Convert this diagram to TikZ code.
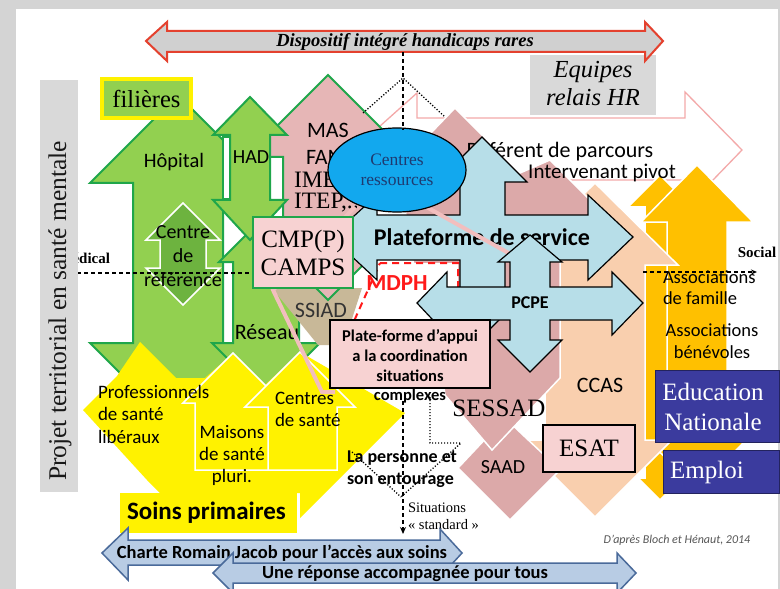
\documentclass[tikz,border=0pt]{standalone}
\usepackage{fontspec}
\setmainfont{Liberation Serif}
\newfontfamily\carl{Carlito}
\usetikzlibrary{shapes.geometric,arrows.meta}
\newcommand\fsz[2]{\fontsize{#1bp}{#2bp}\selectfont}
\definecolor{bggray}{HTML}{D4D4D4}
\definecolor{grn}{HTML}{92D050}
\definecolor{grnd}{HTML}{1FA64A}
\definecolor{grnin}{HTML}{6DB33F}
\definecolor{rosea}{HTML}{DCA9A9}
\definecolor{masfill}{HTML}{E6B6B6}
\definecolor{peach}{HTML}{F9CFAE}
\definecolor{orng}{HTML}{FFC000}
\definecolor{lblue}{HTML}{B7DEE8}
\definecolor{ellb}{HTML}{12A8EE}
\definecolor{navy}{HTML}{1F3A70}
\definecolor{boxpink}{HTML}{F7D2D2}
\definecolor{ssiadtan}{HTML}{C8B898}
\definecolor{btmfill}{HTML}{B8CCE4}
\definecolor{btmdraw}{HTML}{4A6A9A}
\definecolor{edublue}{HTML}{3B3B9E}
\definecolor{boxnavy}{HTML}{23235E}
\definecolor{lgray}{HTML}{D9D9D9}
\definecolor{arrgray}{HTML}{D0D0D0}
\definecolor{pinkline}{HTML}{F3A9A9}
\definecolor{pinkthick}{HTML}{F2BEBE}
\definecolor{redarr}{HTML}{E4412E}
\definecolor{mdphred}{HTML}{FF1A1A}
\definecolor{credit}{HTML}{555555}
\tikzset{
  txt/.style={inner sep=0pt, outer sep=0pt, align=center},
  greenarrow/.style={fill=grn, draw=grnd, line width=2bp},
  bluecross/.style={fill=lblue, draw=black, line width=1.2bp},
  softshape/.style={draw=white, line width=1.5bp},
  yellowarrow/.style={fill=yellow, draw=white, line width=1.5bp},
  bottomarrow/.style={fill=btmfill, draw=btmdraw, line width=1.5bp},
  pinkbox/.style={fill=boxpink, draw=black, line width=1.2bp},
  bluebox/.style={fill=edublue, draw=boxnavy, line width=1bp},
  dashline/.style={dash pattern=on 4bp off 3bp, line width=1.3bp},
  dotline/.style={dash pattern=on 1.2bp off 1.8bp, line width=1.3bp},
}
\begin{document}
\begin{tikzpicture}[x=1bp, y=-1bp, line join=miter]
\useasboundingbox (0,0) rectangle (780,589);
\fill[bggray] (0,0) rectangle (780,589);
\fill[white] (16,9) rectangle (778,589);

% thin pink outline arrow behind the relay teams
\draw[pinkline, line width=1.3bp] (370,135) -- (417,93) -- (417,118) -- (685,118)
  -- (685,92) -- (742,150) -- (713,180) -- (520,180);

% orange up-down arrows (social side)
\draw[softshape, fill=orng] (660,175) -- (692,207) -- (675,207) -- (675,478) -- (682,478)
  -- (660,500) -- (638,478) -- (645,478) -- (645,207) -- (628,207) -- cycle;
\draw[softshape, fill=orng] (697,165) -- (753,222) -- (727,222) -- (727,442) -- (744,442)
  -- (697,490) -- (650,442) -- (667,442) -- (667,222) -- (641,222) -- cycle;

% peach up-down arrow
\draw[softshape, fill=peach] (595,183) -- (678,265) -- (645,265) -- (645,440) -- (672,440)
  -- (595,517) -- (518,440) -- (545,440) -- (545,265) -- (512,265) -- cycle;

% rose medico-social shapes
\draw[softshape, fill=rosea] (505,418) -- (560,470) -- (510,520) -- (458,468) -- cycle;
\draw[softshape, fill=rosea] (400,165) -- (455,108) -- (520,173) -- (550,160) -- (605,215)
  -- (560,260) -- (560,378) -- (492,450) -- (445,395) -- (440,360) -- (410,250) -- cycle;

\node[txt, font=\carl\fsz{22}{26}] (referent) at (560,152) {Référent de parcours};
\node[txt, font=\carl\fsz{21}{25}] (pivot) at (602,173) {Intervenant pivot};

% green sanitary arrows
\draw[greenarrow] (178,95) -- (266,183) -- (223,183) -- (223,343) -- (266,343) -- (178,431)
  -- (90,343) -- (133,343) -- (133,183) -- (90,183) -- cycle;
\draw[fill=grnin, draw=white, line width=1.5bp] (183,203) -- (220,240) -- (206,240) -- (206,268)
  -- (220,268) -- (183,305) -- (146,268) -- (160,268) -- (160,240) -- (146,240) -- cycle;
\draw[greenarrow] (266,215) -- (313,262) -- (299,262) -- (299,343) -- (320,343) -- (266,397)
  -- (212,343) -- (233,343) -- (233,262) -- (219,262) -- cycle;
\draw[fill=white, draw=grnd, line width=1.5bp] (223,137) rectangle (230,199);
\fill[ssiadtan] (272,288) -- (362,288) -- (350,325) -- (330,345) -- (318,345) -- cycle;
\draw[greenarrow, fill=masfill] (328,75) -- (410,157) -- (373,157) -- (373,218) -- (410,218)
  -- (328,300) -- (246,218) -- (283,218) -- (283,157) -- (246,157) -- cycle;
\draw[greenarrow] (250,97) -- (287,135) -- (270,135) -- (270,200) -- (287,200) -- (250,240)
  -- (213,200) -- (230,200) -- (230,135) -- (213,135) -- cycle;

\node[txt, font=\carl\fsz{22}{26}] (mas) at (328,130) {MAS};
\node[txt, font=\carl\fsz{22}{26}, anchor=west] (fam) at (306,157) {FAM};
\node[txt, font=\fsz{23.5}{27}, anchor=west] (ime) at (294,180) {IME};
\node[txt, font=\fsz{23.5}{27}, anchor=west] (itep) at (294,203) {ITEP,..};
\node[txt, font=\carl\fsz{20.5}{24}] (hopital) at (174,162) {Hôpital};
\node[txt, font=\carl\fsz{20}{24}] (had) at (251,157) {HAD};
\node[txt, font=\carl\fsz{20}{24}] (cref) at (183,256) {Centre\\de\\référence};
\node[txt, font=\carl\fsz{22}{26}] (reseau) at (267,332) {Réseau};
\node[txt, font=\carl\fsz{22}{26}, text=black!80] (ssiad) at (321,310) {SSIAD};

% medical / social axis
\node[txt, font=\bfseries\fsz{15}{18}, anchor=east] (medical) at (110,258) {Médical};
\coordinate (medl) at (77,273);
\coordinate (medr) at (253,273);
\draw[dashline] (medl) -- (medr);

% yellow primary care shapes
\fill[yellow] (83,410) -- (117,376) -- (140,342) -- (176,378) -- (205,378) -- (233,353)
  -- (265,385) -- (300,352) -- (405,413) -- (300,518) -- (300,493) -- (160,493) -- (147,480) -- cycle;
\draw[yellowarrow] (233,353) -- (283,403) -- (270,403) -- (270,470) -- (195,470) -- (195,403) -- (183,403) -- cycle;
\draw[yellowarrow] (300,352) -- (355,407) -- (337,407) -- (337,470) -- (268,470) -- (268,407) -- (245,407) -- cycle;
\fill[yellow] (120,493) rectangle (297,533);

\node[txt, font=\carl\fsz{19}{22.5}, align=left, anchor=west] (pros) at (98,414) {Professionnels\\de santé\\libéraux};
\node[txt, font=\carl\fsz{19}{22}] (maisons) at (232,455) {Maisons\\de santé\\pluri.};
\node[txt, font=\carl\fsz{19}{22}, align=left, anchor=west] (csante) at (275,409) {Centres\\de santé};
\node[txt, font=\carl\bfseries\fsz{25}{30}, anchor=west] (soins) at (127,513) {Soins primaires};

\draw[pinkthick, line width=4bp] (355,207) -- (273,290) -- (322,392) -- (335,392);

% MDPH area
\draw[fill=white, draw=mdphred, line width=2bp, dash pattern=on 7bp off 5bp]
  (380,263) -- (458,263) -- (458,330) -- (350,330) -- cycle;
\node[txt, font=\carl\bfseries\fsz{23}{27}, text=mdphred] (mdph) at (397,283) {MDPH};

% service platform cross
\draw[bluecross] (482,137) -- (527,182) -- (505,182) -- (505,215) -- (588,215) -- (588,195)
  -- (633,237) -- (588,280) -- (588,260) -- (505,260) -- (505,292) -- (527,292) -- (482,337)
  -- (437,292) -- (460,292) -- (460,260) -- (377,260) -- (377,280) -- (331,237) -- (377,195)
  -- (377,215) -- (460,215) -- (460,182) -- (437,182) -- cycle;
\node[txt, font=\carl\bfseries\fsz{24}{28}] (pfs) at (482,237) {Plateforme de service};
\draw[pinkthick, line width=4bp] (405,195) -- (512,255);

% resource centres
\node[ellipse, fill=ellb, draw=black, line width=1.2bp, minimum width=138bp, minimum height=84bp,
  inner sep=0pt, align=center, text=navy, font=\fsz{17.5}{20}] (cr) at (397,170) {Centres\\ressources};

% PCPE cross
\draw[bluecross] (530,235) -- (562,262) -- (550,262) -- (550,287) -- (612,287) -- (612,272)
  -- (643,303) -- (612,335) -- (612,320) -- (550,320) -- (550,340) -- (562,340) -- (530,372)
  -- (498,340) -- (510,340) -- (510,320) -- (447,320) -- (447,335) -- (417,303) -- (447,272)
  -- (447,287) -- (510,287) -- (510,262) -- (498,262) -- cycle;
\node[txt, font=\carl\bfseries\fsz{18}{22}] (pcpe) at (530,303) {PCPE};

% boxes
\node[fill=boxpink, draw=grnd, line width=2.5bp, minimum width=100bp, minimum height=71bp,
  inner sep=0pt, align=center, font=\fsz{25}{28}] (cmp) at (303,252.5) {CMP(P)\\CAMPS};
\draw[pinkbox] (330,320) rectangle (490,388);
\node[txt, font=\carl\bfseries\fsz{16.5}{19.7}] (pta) at (410,366.5)
  {Plate-forme d’appui\\a la coordination\\situations\\complexes};
\node[pinkbox, minimum width=92bp, minimum height=47bp, inner sep=0pt, font=\fsz{25}{28}] (esat) at (589,448.5) {ESAT};
\draw[bluebox] (655,370) rectangle (779,442);
\node[txt, text=white, font=\fsz{25}{30}] (edu) at (713,407) {Education\\Nationale};
\draw[bluebox] (663,450) rectangle (779,493);
\node[txt, text=white, font=\fsz{25}{30}] (emploi) at (707,472) {Emploi};

\node[txt, font=\fsz{25}{28}] (sessad) at (499,408) {SESSAD};
\node[txt, font=\carl\fsz{22}{26}] (ccas) at (600,385) {CCAS};
\node[txt, font=\carl\fsz{20}{24}] (saad) at (503,467) {SAAD};

% rare handicaps device and relay teams
\fill[lgray] (530,55) rectangle (656,115);
\node[txt, font=\itshape\fsz{24.5}{28}] (relais) at (593,84) {Equipes\\relais HR};
\draw[fill=arrgray, draw=redarr, line width=2bp] (146,41) -- (167,22) -- (167,31) -- (645,31)
  -- (645,22) -- (663,41) -- (645,61) -- (645,52) -- (167,52) -- (167,61) -- cycle;
\node[txt, font=\bfseries\itshape\fsz{18.5}{22}] (dihr) at (405,42) {Dispositif intégré handicaps rares};

% territorial project label and pathways tag
\fill[lgray] (40,80) rectangle (78,492);
\node[txt, rotate=90, font=\fsz{25.5}{30}, text=black!90] (ptsm) at (60,311) {Projet territorial en santé mentale};
\node[fill=grn, draw=yellow, line width=3.5bp, minimum width=89bp, minimum height=39bp,
  inner sep=0pt, font=\fsz{24.5}{28}] (filieres) at (146.5,98.5) {filières};

% links from the rare handicaps device
\coordinate (dtop) at (403,52);
\coordinate (dapex) at (403,78);
\coordinate (dleft) at (363,113);
\coordinate (dright) at (445,117);
\coordinate (dell) at (403,130);
\draw[dashline] (dtop) -- (dell);
\draw[dotline] (dleft) -- (dapex) -- (dright);

% social axis
\coordinate (socl) at (643,272);
\coordinate (socr) at (757,272);
\draw[dashline, -{Stealth[length=6bp,width=5bp]}] (socl) -- (socr);
\node[txt, font=\bfseries\fsz{15}{18}] (social) at (757,252) {Social};
\node[txt, font=\carl\fsz{18.5}{21}, align=left, anchor=west] (assofam) at (663,288) {Associations\\de famille};
\node[txt, font=\carl\fsz{18.5}{22}] (assoben) at (712,341) {Associations\\bénévoles};

% person and surroundings, standard situations
\node[txt, font=\carl\bfseries\fsz{18}{22}, align=left, anchor=west] (pers) at (347,469) {La personne et\\son entourage};
\node[txt, font=\fsz{14.5}{17}, align=left, anchor=west] (stand) at (408,516) {Situations\\« standard »};
\coordinate (cxtop) at (403,401);
\coordinate (cxbot) at (403,534);
\draw[dashline, -{Stealth[length=7bp,width=6bp]}] (cxtop) -- (cxbot);
\coordinate (q1) at (430,397);
\coordinate (q2) at (430,443);
\coordinate (q3) at (461,443);
\coordinate (vtip) at (401,497);
\coordinate (vleft) at (352,452);
\draw[dotline] (q1) -- (q2) -- (q3) -- (vtip);
\draw[dotline] (vleft) -- (vtip);

% access charters
\draw[bottomarrow] (102,553) -- (128,528) -- (128,540) -- (440,540) -- (440,529) -- (462,553)
  -- (440,577) -- (440,565) -- (128,565) -- (128,580) -- cycle;
\node[txt, font=\carl\bfseries\fsz{18.5}{22}] (charte) at (282,553) {Charte Romain Jacob pour l’accès aux soins};
\draw[bottomarrow] (213,573) -- (233,553) -- (233,563) -- (617,563) -- (617,553) -- (636,573)
  -- (617,593) -- (617,583) -- (233,583) -- (233,593) -- cycle;
\node[txt, font=\carl\bfseries\fsz{18.5}{22}] (reponse) at (405,574) {Une réponse accompagnée pour tous};

\node[txt, font=\carl\itshape\fsz{12}{14}, text=credit] (source) at (677,540) {D’après Bloch et Hénaut, 2014};
\end{tikzpicture}
\end{document}
